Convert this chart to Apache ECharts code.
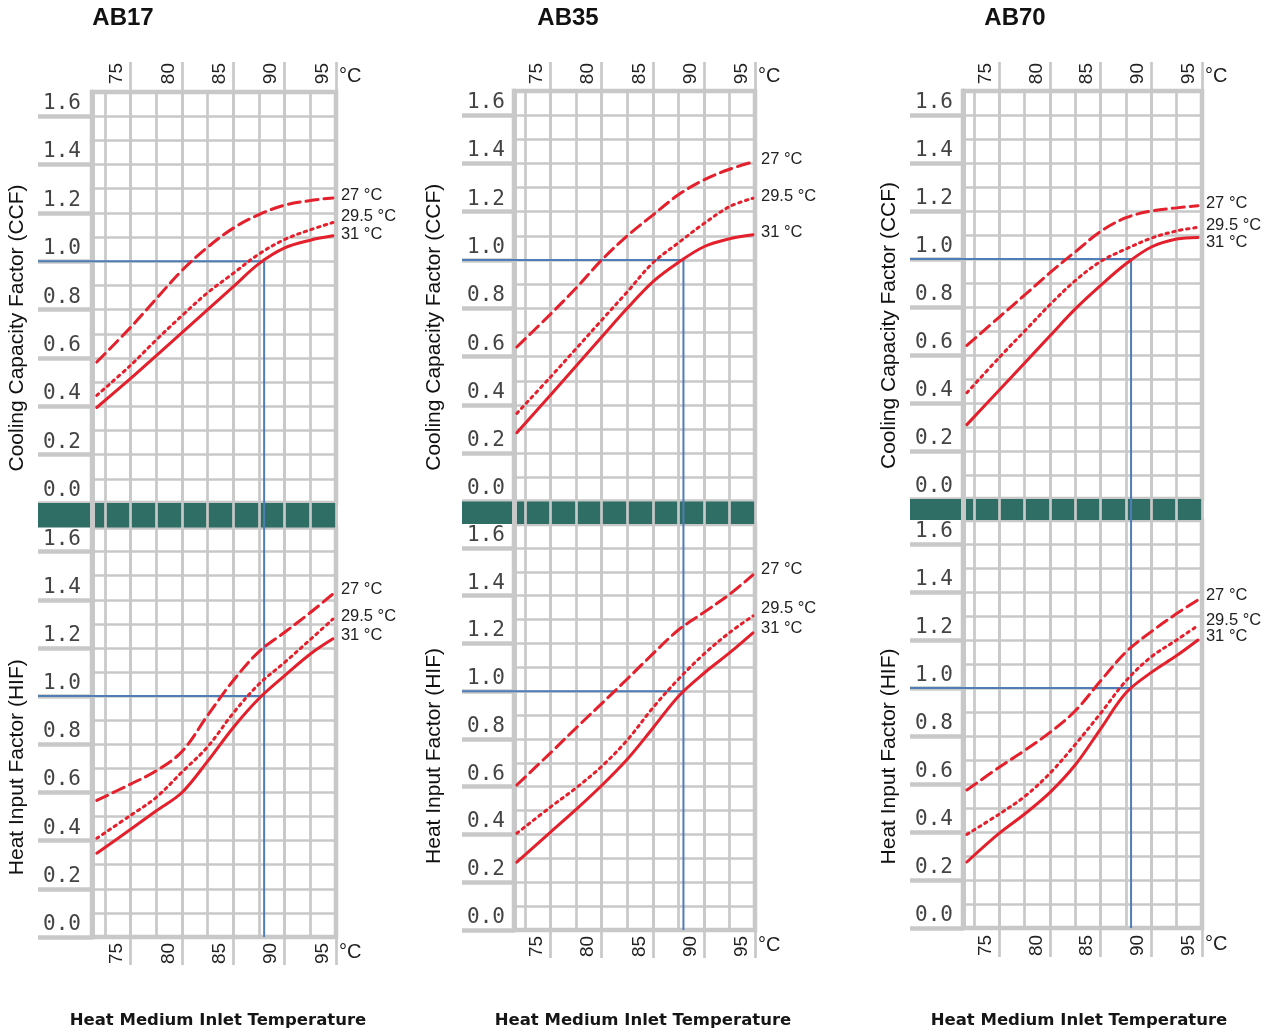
<!DOCTYPE html>
<html><head><meta charset="utf-8">
<script src="https://cdn.jsdelivr.net/npm/echarts@6/dist/echarts.min.js"></script>
<style>html,body{margin:0;padding:0;background:#fff}#c{width:1277px;height:1034px}</style>
</head><body><div id="c"></div>
<script>
// ---------------- DATA ----------------
const models = ['AB17', 'AB35', 'AB70'];
const coolingWaterTemps = ['27 °C', '29.5 °C', '31 °C'];
const xTickValues = [75, 80, 85, 90, 95];
const xTickLabels = ['75', '80', '85', '90', '95'];
const yTickLabels = ['0.0', '0.2', '0.4', '0.6', '0.8', '1.0', '1.2', '1.4', '1.6'];
const ratedTemp = 88;      // heat medium inlet temperature at rated point
const ratedFactor = 1.0;

// AB17
const tempAB17 = [71.7, 75, 77.5, 80, 82.5, 85, 87.5, 90, 92.5, 94.7];
const ccfAB17_27 = [0.583, 0.727, 0.845, 0.962, 1.058, 1.137, 1.193, 1.232, 1.251, 1.262];
const ccfAB17_295 = [0.445, 0.57, 0.675, 0.775, 0.87, 0.95, 1.03, 1.09, 1.13, 1.16];
const ccfAB17_31 = [0.395, 0.515, 0.61, 0.705, 0.80, 0.895, 0.99, 1.055, 1.087, 1.105];
const hifAB17_27 = [0.567, 0.635, 0.69, 0.77, 0.92, 1.065, 1.185, 1.265, 1.347, 1.424];
const hifAB17_295 = [0.41, 0.505, 0.58, 0.685, 0.79, 0.93, 1.05, 1.14, 1.235, 1.32];
const hifAB17_31 = [0.348, 0.447, 0.524, 0.60, 0.73, 0.87, 0.99, 1.085, 1.175, 1.238];
// AB35
const tempAB35 = [71.7, 75, 77.5, 80, 82.5, 85, 87.5, 90, 92.5, 94.8];
const ccfAB35_27 = [0.64, 0.776, 0.884, 1.0, 1.10, 1.186, 1.27, 1.332, 1.376, 1.406];
const ccfAB35_295 = [0.365, 0.516, 0.633, 0.751, 0.868, 0.988, 1.071, 1.151, 1.221, 1.256];
const ccfAB35_31 = [0.285, 0.441, 0.561, 0.681, 0.80, 0.91, 0.99, 1.055, 1.088, 1.105];
const hifAB35_27 = [0.607, 0.742, 0.846, 0.948, 1.051, 1.156, 1.256, 1.33, 1.405, 1.487];
const hifAB35_295 = [0.405, 0.515, 0.595, 0.685, 0.795, 0.93, 1.05, 1.155, 1.245, 1.315];
const hifAB35_31 = [0.284, 0.41, 0.505, 0.605, 0.715, 0.845, 0.978, 1.075, 1.16, 1.244];
// AB70
const tempAB70 = [71.8, 75, 77.5, 80, 82.5, 85, 87.5, 90, 92.5, 94.6];
const ccfAB70_27 = [0.64, 0.758, 0.85, 0.943, 1.03, 1.115, 1.172, 1.20, 1.213, 1.222];
const ccfAB70_295 = [0.443, 0.59, 0.70, 0.81, 0.91, 0.99, 1.042, 1.087, 1.117, 1.132];
const ccfAB70_31 = [0.31, 0.454, 0.567, 0.68, 0.792, 0.89, 0.98, 1.05, 1.083, 1.09];
const hifAB70_27 = [0.575, 0.67, 0.74, 0.815, 0.905, 1.03, 1.15, 1.235, 1.31, 1.367];
const hifAB70_295 = [0.39, 0.475, 0.548, 0.645, 0.765, 0.895, 1.03, 1.13, 1.20, 1.26];
const hifAB70_31 = [0.275, 0.395, 0.475, 0.565, 0.68, 0.83, 0.98, 1.065, 1.135, 1.20];

const panels = [
  { model: models[0], temps: tempAB17, ccf: [ccfAB17_27, ccfAB17_295, ccfAB17_31], hif: [hifAB17_27, hifAB17_295, hifAB17_31] },
  { model: models[1], temps: tempAB35, ccf: [ccfAB35_27, ccfAB35_295, ccfAB35_31], hif: [hifAB35_27, hifAB35_295, hifAB35_31] },
  { model: models[2], temps: tempAB70, ccf: [ccfAB70_27, ccfAB70_295, ccfAB70_31], hif: [hifAB70_27, hifAB70_295, hifAB70_31] }
];

// ---------------- LAYOUT / STYLE ----------------
const X_TICK0 = 70, X_GRID0 = 72.5, X_MAX = 95, Y_MAX = 1.7;
const LAYOUT = [
  { labL: 38, L: 92, X0: 105, R: 336, tickTop: 62, tickBot: 965, top: [92, 503], bot: [527.5, 937], titleX: 123, xTitleX: 218,
    nameGap: [10, 10], namePad: [61, 70], endDy: { ccf: [-2, -6, -1], hif: [-5, -3, -3] } },
  { labL: 462, L: 514, X0: 525, R: 755, tickTop: 62, tickBot: 958, top: [91, 501.5], bot: [524, 930], titleX: 568, xTitleX: 643,
    nameGap: [17, 17], namePad: [62, 58], endDy: { ccf: [-3, -2, -2], hif: [-5, -7, -4] } },
  { labL: 910, L: 963, X0: 974, R: 1202, tickTop: 62, tickBot: 957, top: [91, 499], bot: [520, 928], titleX: 1015, xTitleX: 1079,
    nameGap: [10, 10], namePad: [61, 65], endDy: { ccf: [-2, -2, 5], hif: [-4, -5, -4] } }
];
const RED = '#e3202b', GRAY = '#c8c8c8', BLUE = '#4f7db5', TEAL = '#2f6e65';
const lineTypes = [[12, 6], [2.5, 4.5], 'solid'];
const SANS = 'Liberation Sans, Arial, sans-serif';

const option = { backgroundColor: '#ffffff', animation: false, title: [], grid: [], xAxis: [], yAxis: [], series: [], graphic: [] };
function addGrid(l, t, r, b, extra) {
  option.grid.push(Object.assign({ left: l, top: t, width: r - l, height: b - t }, extra || {}));
  return option.grid.length - 1;
}
function addX(o) { option.xAxis.push(o); return option.xAxis.length - 1; }
function addY(o) { option.yAxis.push(o); return option.yAxis.length - 1; }
const fmtX = v => { const i = xTickValues.indexOf(v); return i >= 0 ? xTickLabels[i] : ''; };
const fmtY = v => { const i = Math.round(v / 0.2); return Math.abs(i * 0.2 - v) < 1e-6 && yTickLabels[i] ? yTickLabels[i] : ''; };

panels.forEach((p, pi) => {
  const g = LAYOUT[pi];
  const ppd = (g.R - g.X0) / (X_MAX - X_GRID0);
  const bgLeft = g.X0 - (X_GRID0 - X_TICK0) * ppd;
  const subMin = X_GRID0 - (g.X0 - g.L) / ppd;
  const ppuTop = (g.top[1] - g.top[0]) / Y_MAX;
  const gbMin = Y_MAX - (g.bot[1] - g.top[0]) / ppuTop;

  // titles
  option.title.push({ text: p.model, left: g.titleX, top: 6, padding: 0, textAlign: 'center',
    textStyle: { fontFamily: SANS, fontSize: 24, fontWeight: 'bold', color: '#111' } });
  option.title.push({ text: 'Heat Medium Inlet Temperature', left: g.xTitleX, top: 1012, padding: 0, textAlign: 'center',
    textStyle: { fontFamily: 'DejaVu Sans', fontSize: 16.5, fontWeight: 'bold', color: '#151515' } });

  // Grid A : tick marks & tick labels (top and bottom)
  const gA = addGrid(bgLeft, g.tickTop, g.R, g.tickBot);
  const xlabBase = { inside: true, margin: 1, verticalAlign: 'bottom', lineHeight: 27,
    fontFamily: SANS, fontSize: 19, color: '#222', formatter: fmtX };
  addX({ gridIndex: gA, type: 'value', position: 'top', min: X_TICK0, max: X_MAX, interval: 5,
    axisLine: { show: false, onZero: false }, axisTick: { show: false },
    splitLine: { show: true, showMinLine: false, lineStyle: { color: GRAY, width: 2.7 } },
    axisLabel: Object.assign({}, xlabBase, { rotate: -90, align: 'right' }), name: '°C', nameLocation: 'end', nameGap: -4,
    nameTextStyle: { fontFamily: SANS, fontSize: 20, color: '#222', verticalAlign: 'top', padding: [4, 0, 0, 0] } });
  addX({ gridIndex: gA, type: 'value', position: 'bottom', min: X_TICK0, max: X_MAX, interval: 5,
    axisLine: { show: false, onZero: false }, axisTick: { show: false }, splitLine: { show: false },
    axisLabel: Object.assign({}, xlabBase, { rotate: 90 }), name: '°C', nameLocation: 'end', nameGap: -4,
    nameTextStyle: { fontFamily: SANS, fontSize: 20, color: '#222', verticalAlign: 'bottom', padding: [0, 0, 3, 0] } });
  addY({ gridIndex: gA, type: 'value', min: 0, max: 1, show: false });

  // Grid B : vertical grid lines over whole panel + left axis line
  const gB = addGrid(bgLeft, g.top[0], g.R, g.bot[1]);
  const xB = addX({ gridIndex: gB, type: 'value', min: X_TICK0, max: X_MAX, interval: 2.5, z: 3,
    axisLine: { show: false, onZero: false }, axisTick: { show: false }, axisLabel: { show: false },
    splitLine: { show: true, showMinLine: false, lineStyle: { color: GRAY, width: 2.7 } } });
  const yB = addY({ gridIndex: gB, type: 'value', min: gbMin, max: Y_MAX, offset: -(g.L - bgLeft), z: 3,
    axisLine: { show: true, onZero: false, lineStyle: { color: GRAY, width: 5 } }, axisTick: { show: false },
    axisLabel: { show: false }, splitLine: { show: false } });

  // band between the two charts
  option.graphic.push({ type: 'rect', silent: true, z: 2.5,
    shape: { x: g.labL, y: g.top[1], width: g.R - g.labL, height: g.bot[0] - g.top[1] }, style: { fill: TEAL } });

  const subs = [
    { key: 'ccf', rng: g.top, name: 'Cooling Capacity Factor (CCF)', k: 0 },
    { key: 'hif', rng: g.bot, name: 'Heat Input Factor (HIF)', k: 1 }
  ];
  subs.forEach(s => {
    const gS = addGrid(g.L, s.rng[0], g.R, s.rng[1], { show: true, borderColor: GRAY, borderWidth: 4.5, backgroundColor: 'transparent' });
    const xS = addX({ gridIndex: gS, type: 'value', min: subMin, max: X_MAX, show: false });
    const yS = addY({ gridIndex: gS, type: 'value', min: 0, max: Y_MAX, interval: 0.1,
      axisLine: { show: false }, axisTick: { show: false }, axisLabel: { show: false },
      splitLine: { show: true, lineStyle: { color: GRAY, width: 2.7 } } });
    const gL = addGrid(g.labL, s.rng[0], g.L, s.rng[1]);
    const xL = addX({ gridIndex: gL, type: 'value', min: 0, max: 1, show: false });
    const yL = addY({ gridIndex: gL, type: 'value', position: 'left', min: 0, max: Y_MAX, interval: 0.2,
      axisLine: { show: false }, axisTick: { show: false },
      splitLine: { show: true, showMaxLine: false, lineStyle: { color: GRAY, width: 4.5 } },
      axisLabel: { inside: true, margin: 5, verticalAlign: 'bottom', padding: [0, 0, 2, 0], showMaxLabel: false,
        fontFamily: 'DejaVu Sans Mono, monospace', fontSize: 21, color: '#444', formatter: fmtY },
      name: s.name, nameLocation: 'middle', nameRotate: 90, nameGap: g.nameGap[s.k],
      nameTextStyle: { fontFamily: SANS, fontSize: 21, color: '#111', padding: [0, g.namePad[s.k], 0, 0] } });

    // curves
    p[s.key].forEach((vals, k) => {
      option.series.push({ type: 'line', name: coolingWaterTemps[k], xAxisIndex: xS, yAxisIndex: yS, z: 5, silent: true,
        data: p.temps.map((t, j) => [t, vals[j]]), showSymbol: false, smooth: 0.35,
        lineStyle: { color: RED, width: 3, type: lineTypes[k], cap: 'round' },
        endLabel: { show: true, formatter: '{a}', distance: 8, offset: [0, g.endDy[s.key][k]],
          fontFamily: SANS, fontSize: 16.5, color: '#222' } });
    });
    // rated-point guide lines (horizontal)
    const guide = { type: 'line', showSymbol: false, silent: true, z: 4, lineStyle: { color: BLUE, width: 2 } };
    option.series.push(Object.assign({}, guide, { xAxisIndex: xL, yAxisIndex: yL, data: [[0, ratedFactor], [1, ratedFactor]] }));
    option.series.push(Object.assign({}, guide, { xAxisIndex: xS, yAxisIndex: yS, data: [[subMin, ratedFactor], [ratedTemp, ratedFactor]] }));
  });
  // vertical guide from rated point down through both charts
  option.series.push({ type: 'line', showSymbol: false, silent: true, z: 4, lineStyle: { color: BLUE, width: 2 },
    xAxisIndex: xB, yAxisIndex: yB, data: [[ratedTemp, ratedFactor], [ratedTemp, gbMin]] });
});

const chart = echarts.init(document.getElementById('c'), null, { renderer: 'canvas' });
chart.setOption(option);
</script></body></html>
